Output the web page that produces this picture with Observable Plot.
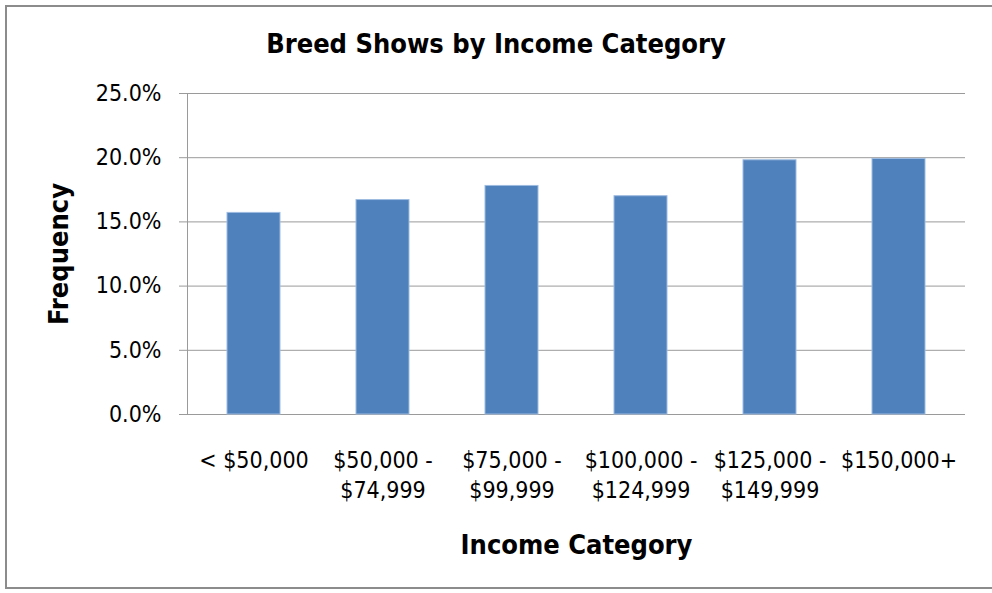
<!DOCTYPE html>
<html>
<head>
<meta charset="utf-8">
<script src="https://cdn.jsdelivr.net/npm/d3@7"></script>
<script src="https://cdn.jsdelivr.net/npm/@observablehq/plot@0.6"></script>
<style>
  html, body { margin: 0; padding: 0; background: #fff; }
  #wrap { position: relative; width: 992px; height: 593px; overflow: hidden; background: #fff; }
  #frame { position: absolute; left: 5px; top: 5px; width: 1100px; height: 584px; border: 2px solid #8c8c8c; box-sizing: border-box; }
  #title { position: absolute; left: 0; top: 0; width: 992px; height: 70px; line-height: 88px; text-align: center;
           font-family: "DejaVu Sans Condensed", "DejaVu Sans", sans-serif; font-weight: bold; font-size: 27px; color: #000; }
  #chart { position: absolute; left: 0; top: 70px; }
</style>
</head>
<body>
<div id="wrap">
  <div id="frame"></div>
  <div id="title">Breed Shows by Income Category</div>
  <div id="chart"></div>
</div>
<script>
const categories = ["< $50,000", "$50,000 -\n$74,999", "$75,000 -\n$99,999", "$100,000 -\n$124,999", "$125,000 -\n$149,999", "$150,000+"];
const values = [15.7, 16.7, 17.8, 17.0, 19.8, 19.9];
const yTicks = [0, 5, 10, 15, 20, 25];
const xLabel = "Income Category";
const yLabel = "Frequency";

const data = categories.map((c, i) => ({category: c, value: values[i]}));
const font = '"DejaVu Sans Condensed", "DejaVu Sans", sans-serif';

const plot = Plot.plot({
  width: 992,
  height: 523,
  marginLeft: 187,
  marginRight: 27,
  marginTop: 23,
  marginBottom: 179,
  style: {fontFamily: font, fontSize: "23px", color: "#000", background: "transparent"},
  x: {domain: categories, paddingInner: 0.59, paddingOuter: 0.295, label: null},
  y: {domain: [0, 25], label: null},
  marks: [
    Plot.gridY(yTicks, {stroke: "#9a9a9a", strokeOpacity: 1, strokeWidth: 1}),
    Plot.frame({anchor: "left", stroke: "#9a9a9a", strokeOpacity: 1}),
    Plot.axisY(yTicks, {tickSize: 8, tickPadding: 18, tickFormat: d => d.toFixed(1) + "%", stroke: "#9a9a9a", fontSize: 23, label: null}),
    Plot.barY(data, {x: "category", y: "value", fill: "#4f81bd", stroke: "#9dbbe0", strokeWidth: 1}),
    Plot.axisX({tickSize: 0, tickPadding: 32, fontSize: 23, lineHeight: 1.3, label: null}),
    Plot.text([yLabel], {frameAnchor: "left", dx: -128, rotate: -90, textAnchor: "middle", lineAnchor: "middle", fontWeight: "bold", fontSize: 27, fill: "#000"}),
    Plot.text([xLabel], {frameAnchor: "bottom", dy: 131, textAnchor: "middle", lineAnchor: "middle", fontWeight: "bold", fontSize: 27, fill: "#000"})
  ]
});
document.getElementById("chart").appendChild(plot);
</script>
</body>
</html>
